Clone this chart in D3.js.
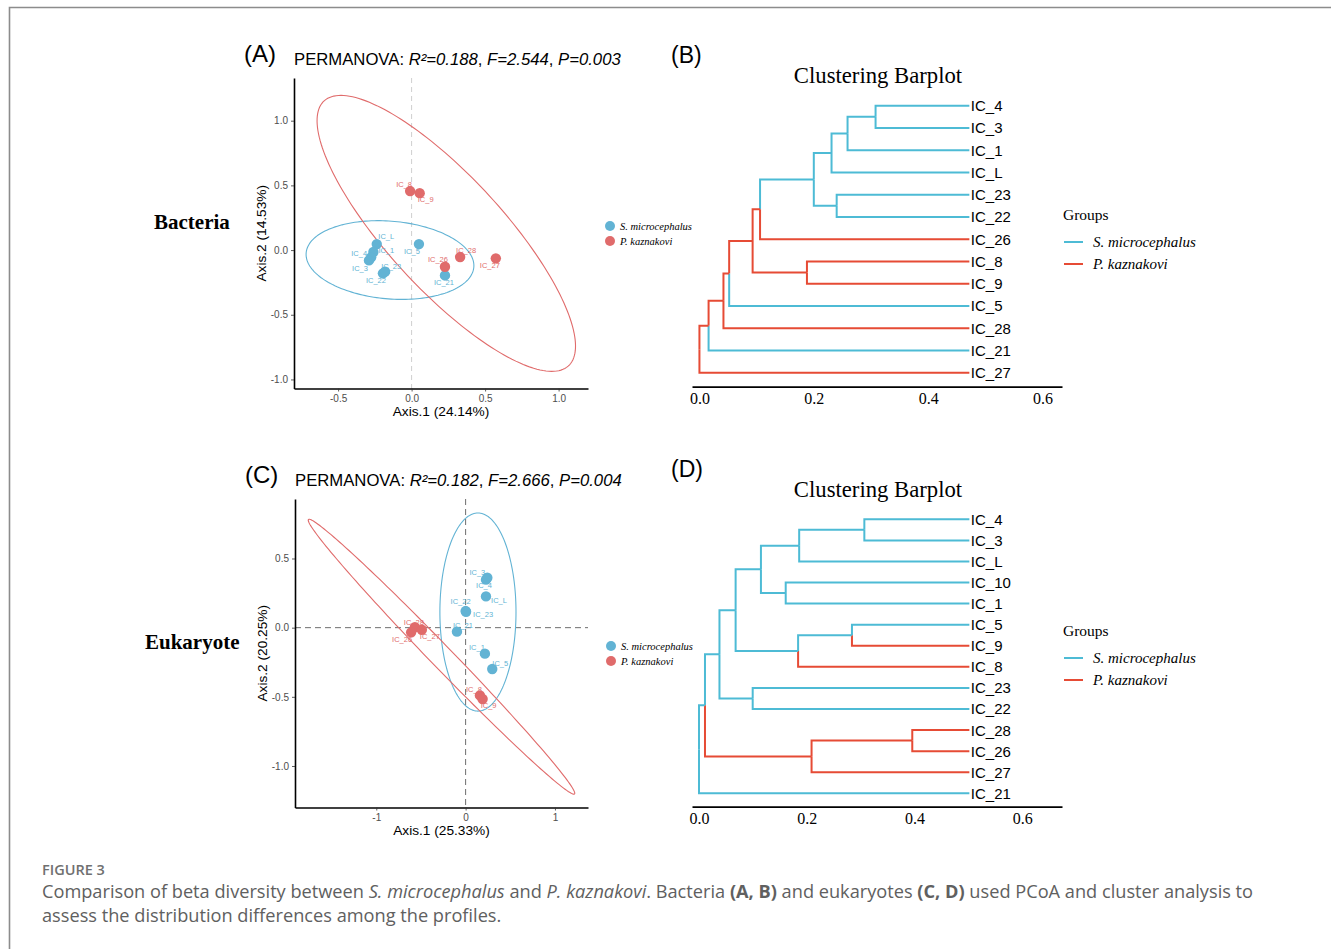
<!DOCTYPE html>
<html><head><meta charset="utf-8">
<script src="https://cdn.jsdelivr.net/npm/d3@7"></script>
<style>body{margin:0;background:#fff}svg{display:block}</style>
</head><body>
<svg id="c" width="1331" height="949"></svg>
<script>
// ---------------- DATA ----------------
const groupNames = ["S. microcephalus", "P. kaznakovi"];

// (A) Bacteria PCoA
const bacSamples = ["IC_L","IC_1","IC_4","IC_3","IC_22","IC_23","IC_5","IC_21","IC_8","IC_9","IC_26","IC_28","IC_27"];
const bacAxis1   = [-0.237,-0.260,-0.275,-0.290,-0.195,-0.180,0.050,0.227,-0.010,0.055,0.227,0.330,0.573];
const bacAxis2   = [0.046,-0.015,-0.056,-0.080,-0.180,-0.167,0.046,-0.196,0.456,0.440,-0.129,-0.054,-0.064];
const bacGroup   = [0,0,0,0,0,0,0,0,1,1,1,1,1];
// ellipse: centre x, centre y, semi-axis a, semi-axis b, angle (deg) in data units
const bacEllipses = [[-0.147,-0.077,0.573,0.300,-6],[0.236,0.129,1.32,0.41,-51.7]];
const bacPerm = ["0.188","2.544","0.003"];
const bacXTicks = [-0.5,0,0.5,1.0], bacXTickLabels = ["-0.5","0.0","0.5","1.0"];
const bacYTicks = [-1.0,-0.5,0,0.5,1.0], bacYTickLabels = ["-1.0","-0.5","0.0","0.5","1.0"];
const bacXTitle = "Axis.1 (24.14%)", bacYTitle = "Axis.2 (14.53%)";

// (C) Eukaryote PCoA
const eukSamples = ["IC_3","IC_4","IC_L","IC_22","IC_23","IC_21","IC_1","IC_5","IC_8","IC_9","IC_28","IC_26","IC_27"];
const eukAxis1   = [0.243,0.228,0.228,0.000,0.005,-0.097,0.216,0.298,0.160,0.190,-0.568,-0.610,-0.490];
const eukAxis2   = [0.361,0.347,0.226,0.120,0.115,-0.029,-0.188,-0.299,-0.490,-0.516,0.004,-0.034,-0.015];
const eukGroup   = [0,0,0,0,0,0,0,0,1,1,1,1,1];
const eukEllipses = [[0.138,0.113,0.426,0.716,0],[-0.27,-0.21,1.79,0.095,-33.6]];
const eukPerm = ["0.182","2.666","0.004"];
const eukXTicks = [-1,0,1], eukXTickLabels = ["-1","0","1"];
const eukYTicks = [-1.0,-0.5,0,0.5], eukYTickLabels = ["-1.0","-0.5","0.0","0.5"];
const eukXTitle = "Axis.1 (25.33%)", eukYTitle = "Axis.2 (20.25%)";

// (B) Bacteria clustering: leaves top to bottom, merges [id, childA, childB, height, colourGroup]
const bacLeaves = ["IC_4","IC_3","IC_1","IC_L","IC_23","IC_22","IC_26","IC_8","IC_9","IC_5","IC_28","IC_21","IC_27"];
const bacLeafGroup = [0,0,0,0,0,0,1,1,1,0,1,0,1];
const bacLeafHeight = 0.472;
const bacMerges = [
  ["n1","IC_4","IC_3",0.308,0],["n2","n1","IC_1",0.259,0],["n3","n2","IC_L",0.231,0],
  ["n4","IC_23","IC_22",0.240,0],["n5","n3","n4",0.200,0],["n6","n5","IC_26",0.106,1],
  ["n7","IC_8","IC_9",0.188,1],["n8","n6","n7",0.093,1],["n9","n8","IC_5",0.052,1],
  ["n10","n9","IC_28",0.042,1],["n11","n10","IC_21",0.016,1],["root","n11","IC_27",0.0,1]];

// (D) Eukaryote clustering
const eukLeaves = ["IC_4","IC_3","IC_L","IC_10","IC_1","IC_5","IC_9","IC_8","IC_23","IC_22","IC_28","IC_26","IC_27","IC_21"];
const eukLeafGroup = [0,0,0,0,0,0,1,1,0,0,1,1,1,0];
const eukLeafHeight = 0.502;
const eukMerges = [
  ["m1","IC_4","IC_3",0.307,0],["m2","m1","IC_L",0.186,0],["m3","IC_10","IC_1",0.161,0],
  ["m4","m2","m3",0.115,0],["m5","IC_5","IC_9",0.284,0],["m6","m5","IC_8",0.184,0],
  ["m7","m4","m6",0.068,0],["m8","IC_23","IC_22",0.0997,0],["m9","m7","m8",0.038,0],
  ["m10","IC_28","IC_26",0.396,1],["m11","m10","IC_27",0.209,1],["m12","m9","m11",0.0111,0],
  ["root","m12","IC_21",0.0,0]];
const treeTicks = [0,0.2,0.4,0.6], treeTickLabels = ["0.0","0.2","0.4","0.6"];

// ---------------- STYLE / LAYOUT ----------------
const svg = d3.select("#c");
const PT_COL = ["#62B3D4","#E06B6B"];
const TR_COL = ["#4DBBD5","#E64B35"];
const SANS = "Liberation Sans, Arial, sans-serif";
const SERIF = "Liberation Serif, Times New Roman, serif";

// frame
svg.append("path").attr("d","M9.5,949V7.5H1331").attr("fill","none").attr("stroke","#8c8c8c").attr("stroke-width",1.6);

const nudgeA = {IC_L:[9.5,-8],IC_1:[13,-2],IC_4:[-12,-4],IC_3:[-9,8],IC_23:[6,-5],IC_22:[-7,7],IC_5:[-7,7],
  IC_21:[-1,7],IC_8:[-6,-7],IC_9:[6,6],IC_26:[-7,-7],IC_28:[6,-7],IC_27:[-6,7]};
const nudgeC = {IC_3:[-10,-5],IC_4:[-2,6],IC_L:[13,4],IC_22:[-5,-10],IC_23:[17,3],IC_21:[6,-6],IC_1:[-8,-6],
  IC_5:[8,-6],IC_8:[-6,-6],IC_9:[6,6],IC_28:[-1,-5],IC_26:[-9,7],IC_27:[8,7]};

function drawPcoa(c) {
  const g = svg.append("g");
  const x = d3.scaleLinear().domain(c.xDomain).range([c.left, c.right]);
  const y = d3.scaleLinear().domain(c.yDomain).range([c.bottom, c.top]);
  // reference lines
  g.append("line").attr("x1",x(0)).attr("x2",x(0)).attr("y1",c.top).attr("y2",c.bottom)
    .attr("stroke",c.refCol).attr("stroke-width",c.refW).attr("stroke-dasharray",c.refDash);
  if (c.hLine) g.append("line").attr("x1",c.left).attr("x2",c.right).attr("y1",y(0)).attr("y2",y(0))
    .attr("stroke",c.refCol).attr("stroke-width",c.refW).attr("stroke-dasharray",c.refDash);
  // ellipses
  c.ellipses.forEach((e,i)=>{
    const [cx,cy,a,b,deg] = e, th = deg*Math.PI/180;
    const pts = d3.range(0,360,2).map(d=>{const t=d*Math.PI/180;
      return [x(cx + a*Math.cos(t)*Math.cos(th) - b*Math.sin(t)*Math.sin(th)),
              y(cy + a*Math.cos(t)*Math.sin(th) + b*Math.sin(t)*Math.cos(th))];});
    g.append("path").attr("d", d3.line()(pts)+"Z").attr("fill","none").attr("stroke",PT_COL[i]).attr("stroke-width",1.1);
  });
  // points
  c.samples.forEach((s,i)=>{
    g.append("circle").attr("cx",x(c.ax1[i])).attr("cy",y(c.ax2[i])).attr("r",5.2).attr("fill",PT_COL[c.grp[i]]);
  });
  c.samples.forEach((s,i)=>{
    const o = c.nudge[s]||[0,0];
    g.append("text").attr("x",x(c.ax1[i])+o[0]).attr("y",y(c.ax2[i])+o[1]).attr("text-anchor","middle")
      .attr("dominant-baseline","central").attr("font-family",SANS).attr("font-size",7.5)
      .attr("fill",PT_COL[c.grp[i]]).text(s);
  });
  // axes
  const ax = g.append("g").attr("transform",`translate(0,${c.bottom})`)
    .call(d3.axisBottom(x).tickValues(c.xTicks).tickFormat((d,i)=>c.xLabels[i]).tickSize(3).tickSizeOuter(0));
  const ay = g.append("g").attr("transform",`translate(${c.left},0)`)
    .call(d3.axisLeft(y).tickValues(c.yTicks).tickFormat((d,i)=>c.yLabels[i]).tickSize(3).tickSizeOuter(0));
  [ax,ay].forEach(a=>{
    a.select(".domain").attr("stroke","#000").attr("stroke-width",1.6);
    a.selectAll(".tick line").attr("stroke","#333").attr("stroke-width",0.8);
    a.selectAll(".tick text").attr("fill","#4d4d4d").attr("font-family",SANS).attr("font-size",10);
  });
  // axis titles
  g.append("text").attr("x",(c.left+c.right)/2).attr("y",c.bottom+27).attr("text-anchor","middle")
    .attr("font-family",SANS).attr("font-size",13.7).attr("fill","#000").text(c.xTitle);
  g.append("text").attr("transform",`translate(${c.left-33},${(c.top+c.bottom)/2}) rotate(-90)`).attr("text-anchor","middle")
    .attr("font-family",SANS).attr("font-size",13.7).attr("fill","#000").attr("dominant-baseline","central").text(c.yTitle);
  // title
  const t = g.append("text").attr("x",c.left).attr("y",c.top-13).attr("font-family",SANS).attr("font-size",16.7).attr("fill","#000");
  t.append("tspan").text("PERMANOVA: ");
  t.append("tspan").attr("font-style","italic").text("R²="+c.perm[0]);
  t.append("tspan").text(", ");
  t.append("tspan").attr("font-style","italic").text("F="+c.perm[1]);
  t.append("tspan").text(", ");
  t.append("tspan").attr("font-style","italic").text("P="+c.perm[2]);
  // panel letter
  g.append("text").attr("x",c.left-50).attr("y",c.top-16).attr("font-family",SANS).attr("font-size",24).text(c.letter);
  // row label
  g.append("text").attr("x",c.rowX).attr("y",c.rowY).attr("font-family",SERIF).attr("font-weight","bold")
    .attr("font-size",21).text(c.rowLabel);
  // legend
  groupNames.forEach((n,i)=>{
    g.append("circle").attr("cx",c.legX).attr("cy",c.legY+i*15).attr("r",5).attr("fill",PT_COL[i]);
    g.append("text").attr("x",c.legX+10).attr("y",c.legY+i*15).attr("dominant-baseline","central")
      .attr("font-family",SERIF).attr("font-style","italic").attr("font-size",10.5).text(n);
  });
}

drawPcoa({samples:bacSamples, ax1:bacAxis1, ax2:bacAxis2, grp:bacGroup, ellipses:bacEllipses, perm:bacPerm,
  xDomain:[-0.8,1.2], yDomain:[-1.07,1.33], left:294, right:588, top:78, bottom:388.5,
  xTicks:bacXTicks, xLabels:bacXTickLabels, yTicks:bacYTicks, yLabels:bacYTickLabels,
  xTitle:bacXTitle, yTitle:bacYTitle, refCol:"#cfcfcf", refW:1, refDash:"5,4", hLine:false,
  nudge:nudgeA, letter:"(A)", rowLabel:"Bacteria", rowX:154, rowY:229, legX:610, legY:226});

drawPcoa({samples:eukSamples, ax1:eukAxis1, ax2:eukAxis2, grp:eukGroup, ellipses:eukEllipses, perm:eukPerm,
  xDomain:[-1.91,1.37], yDomain:[-1.30,0.93], left:295, right:588, top:499, bottom:807.5,
  xTicks:eukXTicks, xLabels:eukXTickLabels, yTicks:eukYTicks, yLabels:eukYTickLabels,
  xTitle:eukXTitle, yTitle:eukYTitle, refCol:"#6e6e6e", refW:1, refDash:"6,4", hLine:true,
  nudge:nudgeC, letter:"(C)", rowLabel:"Eukaryote", rowX:145, rowY:649, legX:611, legY:646});

function drawTree(c) {
  const g = svg.append("g");
  const x = d3.scaleLinear().domain(c.xDomain).range([c.left, c.right]);
  const y = d3.scalePoint().domain(c.leaves).range([c.yTop, c.yBottom]);
  const pos = {};
  c.leaves.forEach((l,i)=>{ pos[l] = {x:x(c.leafHeight), y:y(l), g:c.leafGroup[i]}; });
  c.merges.forEach(([id,a,b,h,gr])=>{ pos[id] = {x:x(h), y:(pos[a].y+pos[b].y)/2, g:gr}; });
  c.merges.forEach(([id,a,b])=>{
    const p = pos[id];
    [a,b].forEach(ch=>{
      const k = pos[ch];
      g.append("path").attr("d",`M${p.x},${p.y}V${k.y}H${k.x}`).attr("fill","none")
        .attr("stroke",TR_COL[k.g]).attr("stroke-width",2);
    });
  });
  c.leaves.forEach(l=>{
    g.append("text").attr("x",pos[l].x+1.5).attr("y",pos[l].y).attr("dominant-baseline","central")
      .attr("font-family",SANS).attr("font-size",15).attr("fill","#000").text(l);
  });
  const ax = g.append("g").attr("transform",`translate(0,${c.axisY})`)
    .call(d3.axisBottom(x).tickValues(treeTicks).tickFormat((d,i)=>treeTickLabels[i]).tickSize(0).tickSizeOuter(0).tickPadding(6));
  ax.select(".domain").attr("stroke","#000").attr("stroke-width",1.8);
  ax.selectAll(".tick text").attr("fill","#000").attr("font-family",SERIF).attr("font-size",16);
  g.append("text").attr("x",878).attr("y",c.titleY).attr("text-anchor","middle").attr("font-family",SERIF)
    .attr("font-size",22.7).text("Clustering Barplot");
  g.append("text").attr("x",671).attr("y",c.titleY-20).attr("font-family",SANS).attr("font-size",23).text(c.letter);
  g.append("text").attr("x",1063).attr("y",c.legY).attr("font-family",SERIF).attr("font-size",15.5).text("Groups");
  groupNames.forEach((n,i)=>{
    const yy = c.legY+22+i*22;
    g.append("line").attr("x1",1064).attr("x2",1083).attr("y1",yy).attr("y2",yy).attr("stroke",TR_COL[i]).attr("stroke-width",2);
    g.append("text").attr("x",1093).attr("y",yy).attr("dominant-baseline","central").attr("font-family",SERIF)
      .attr("font-style","italic").attr("font-size",15).text(n);
  });
}

drawTree({leaves:bacLeaves, leafGroup:bacLeafGroup, leafHeight:bacLeafHeight, merges:bacMerges,
  xDomain:[-0.013,0.634], left:692, right:1062, yTop:105.7, yBottom:372.7, axisY:386.7, titleY:83, letter:"(B)", legY:220});
drawTree({leaves:eukLeaves, leafGroup:eukLeafGroup, leafHeight:eukLeafHeight, merges:eukMerges,
  xDomain:[-0.013,0.674], left:692, right:1062, yTop:519.3, yBottom:793.3, axisY:806.7, titleY:497, letter:"(D)", legY:636});

// caption
svg.append("text").attr("x",42).attr("y",875).attr("font-family","Open Sans, sans-serif").attr("font-weight",600)
  .attr("font-size",14.5).attr("fill","#707070").text("FIGURE 3");
const cap = svg.append("text").attr("font-family","Open Sans, sans-serif").attr("font-size",18.2).attr("fill","#606060");
const l1 = [["Comparison of beta diversity between ",""],["S. microcephalus","i"],[" and ",""],["P. kaznakovi","i"],
  [". Bacteria ",""],["(A, B)","b"],[" and eukaryotes ",""],["(C, D)","b"],[" used PCoA and cluster analysis to",""]];
const line1 = cap.append("tspan").attr("x",42).attr("y",898);
l1.forEach(([s,f])=>{ const t = line1.append("tspan").text(s); if(f==="i") t.attr("font-style","italic"); if(f==="b") t.attr("font-weight",700); });
cap.append("tspan").attr("x",42).attr("y",922).text("assess the distribution differences among the profiles.");
</script>
</body></html>
